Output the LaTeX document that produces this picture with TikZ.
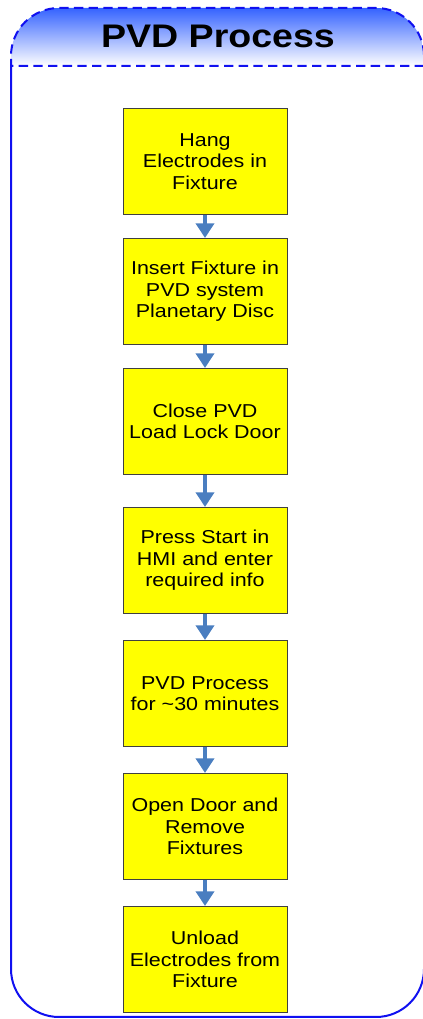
\documentclass[tikz,border=0pt]{standalone}
\usepackage{fontspec}
\setmainfont[FakeStretch=1.15]{Liberation Sans}
\usetikzlibrary{arrows.meta,positioning}
\usepackage{xcolor}
\definecolor{frameblue}{HTML}{1010F0}
\definecolor{headblue}{HTML}{3563FF}
\definecolor{stepyellow}{HTML}{FFFF00}
\definecolor{arrowblue}{HTML}{4A7EC0}
\definecolor{edge}{HTML}{404040}
\tikzset{
  frame/.style={draw=frameblue,line width=1.5pt},
  header/.style={frame,dash pattern=on 7pt off 4pt,top color=headblue,bottom color=white},
  title/.style={font=\fontsize{24.5}{28}\selectfont\bfseries},
  stepbox/.style={draw=edge,fill=stepyellow,line width=0.75pt,minimum width=123pt,minimum height=79.5pt,align=center,inner sep=2pt,font=\fontsize{14}{16.1}\selectfont},
  flow/.style={-{Triangle[width=13.5pt,length=11pt]},line width=3pt,draw=arrowblue}
}

\begin{document}
\begin{tikzpicture}[x=0.75pt,y=0.75pt,node distance=17.25pt]
\useasboundingbox (0,0) rectangle (422,1019);
% swimlane frame
\draw[frame] (11,953) -- (11,50) arc[start angle=180,end angle=270,radius=48] -- (376,2) arc[start angle=270,end angle=360,radius=48] -- (424,953);
\draw[header] (424,953) -- (11,953) -- (11,963) arc[start angle=180,end angle=90,radius=48] -- (376,1011) arc[start angle=90,end angle=0,radius=48] -- cycle;
\node[title] (title) at (218,983) {PVD Process};

\node[stepbox] (hang) at (205,857.5) {Hang\\Electrodes in\\Fixture};
\node[stepbox,below=of hang] (insert) {Insert Fixture in\\PVD system\\Planetary Disc};
\node[stepbox,below=of insert] (close) {Close PVD\\Load Lock Door};
\node[stepbox,below=24pt of close] (press) {Press Start in\\HMI and enter\\required info};
\node[stepbox,below=19.5pt of press] (pvd) {PVD Process\\for \textasciitilde30 minutes};
\node[stepbox,below=19.5pt of pvd] (open) {Open Door and\\Remove\\Fixtures};
\node[stepbox,below=19.5pt of open] (unload) {Unload\\Electrodes from\\Fixture};

\draw[flow] (hang) -- (insert);
\draw[flow] (insert) -- (close);
\draw[flow] (close) -- (press);
\draw[flow] (press) -- (pvd);
\draw[flow] (pvd) -- (open);
\draw[flow] (open) -- (unload);
\end{tikzpicture}
\end{document}
